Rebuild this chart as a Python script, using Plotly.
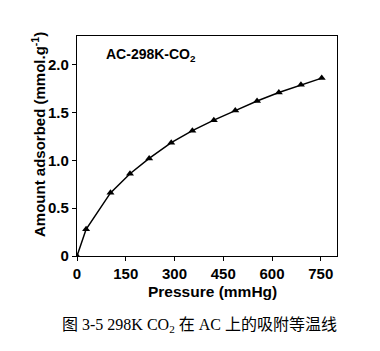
import plotly.graph_objects as go

pressure = [0, 28, 103, 163, 222, 290, 355, 421, 487, 554, 621, 689, 753]
adsorbed = [0, 0.28, 0.66, 0.86, 1.02, 1.185, 1.31, 1.42, 1.52, 1.62, 1.71, 1.79, 1.86]

x_tickvals = [0, 150, 300, 450, 600, 750]
x_ticktext = ["0", "150", "300", "450", "600", "750"]
y_tickvals = [0, 0.5, 1.0, 1.5, 2.0]
y_ticktext = ["0", "0.5", "1.0", "1.5", "2.0"]

sans = "Liberation Sans, Arial, sans-serif"
serif = "Liberation Serif, Times New Roman, Noto Sans CJK SC, serif"

fig = go.Figure()
fig.add_trace(go.Scatter(
    x=pressure, y=adsorbed, mode="lines+markers",
    line=dict(color="black", width=1.5),
    marker=dict(symbol="triangle-up", size=7, color="black"),
    showlegend=False,
))

axis_common = dict(
    showline=True, linecolor="black", linewidth=1.3, mirror=True,
    ticks="outside", ticklen=4, tickwidth=1.3, tickcolor="black",
    showgrid=False, zeroline=False,
    tickfont=dict(family=sans, size=15, color="black", weight="bold"),
)

fig.update_layout(
    width=380, height=351,
    margin=dict(l=77, r=43, t=36, b=95),
    paper_bgcolor="white", plot_bgcolor="white",
    xaxis=dict(range=[0, 800], tickvals=x_tickvals, ticktext=x_ticktext, **axis_common),
    yaxis=dict(range=[0, 2.3], tickvals=y_tickvals, ticktext=y_ticktext, **axis_common),
    annotations=[
        dict(text="<b>AC-298K-CO<sub>2</sub></b>", xref="paper", yref="paper",
             x=0.105, y=0.915, xanchor="left", yanchor="middle", showarrow=False,
             font=dict(family=sans, size=14, color="black")),
        dict(text="<b>Pressure (mmHg)</b>", xref="paper", yref="paper",
             x=0.523, y=-0.16, xanchor="center", yanchor="middle", showarrow=False,
             font=dict(family=sans, size=15.5, color="black")),
        dict(text="<b>Amount adsorbed (mmol.g<sup>-1</sup>)</b>", xref="paper", yref="paper",
             x=-0.15, y=0.55, xanchor="center", yanchor="middle", showarrow=False,
             textangle=-90, font=dict(family=sans, size=15, color="black")),
        dict(text="图 3-5 298K CO<sub>2</sub> 在 AC 上的吸附等温线", xref="paper", yref="paper",
             x=0.473, y=-0.317, xanchor="center", yanchor="middle", showarrow=False,
             font=dict(family=serif, size=16, color="black")),
    ],
)

fig.write_html("out.html")
